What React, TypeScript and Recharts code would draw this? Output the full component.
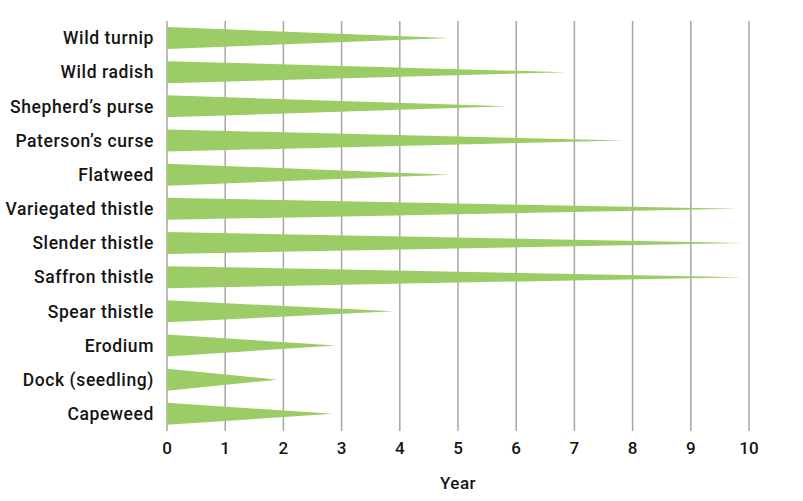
import React from 'react';
import { BarChart, Bar, XAxis, YAxis, CartesianGrid } from 'recharts';

const weeds = [
  'Wild turnip',
  'Wild radish',
  'Shepherd\u2019s purse',
  'Paterson\u2019s curse',
  'Flatweed',
  'Variegated thistle',
  'Slender thistle',
  'Saffron thistle',
  'Spear thistle',
  'Erodium',
  'Dock (seedling)',
  'Capeweed',
];
const years = [4.85, 6.85, 5.85, 7.85, 4.85, 9.8, 9.9, 9.9, 3.9, 2.9, 1.9, 2.85];
const xTicks = [0, 1, 2, 3, 4, 5, 6, 7, 8, 9, 10];

const data = weeds.map((name, i) => ({ name, value: years[i] }));

const FONT = 'Roboto, sans-serif';
const TEXT = '#141414';

const Wedge = (props: any) => {
  const { x, y, width, height, fill } = props;
  if (width == null || height == null) return null;
  return (
    <path
      d={`M${x},${y}L${x + width},${y + height / 2}L${x},${y + height}Z`}
      fill={fill}
    />
  );
};

export default function App() {
  return (
    <div style={{ position: 'absolute', left: 0, top: 0, background: '#fff' }}>
      <BarChart
        width={803}
        height={501}
        data={data}
        layout="vertical"
        margin={{ top: 21, right: 54, bottom: 0, left: 0 }}
        barCategoryGap={0}
      >
        <CartesianGrid
          horizontal={false}
          vertical={true}
          stroke="#a6a6a6"
          strokeWidth={1.5}
        />
        <XAxis
          type="number"
          domain={[0, 10]}
          ticks={xTicks}
          axisLine={false}
          tickLine={false}
          tickSize={0}
          tickMargin={11}
          height={70}
          tick={{ fill: TEXT, fontSize: 17, fontFamily: FONT, fontWeight: 500 }}
          label={{
            value: 'Year',
            position: 'insideBottom',
            offset: 12,
            fill: TEXT,
            fontSize: 17,
            fontFamily: FONT,
            fontWeight: 500,
            letterSpacing: 0.5,
          }}
        />
        <YAxis
          type="category"
          dataKey="name"
          width={167}
          axisLine={false}
          tickLine={false}
          tickSize={0}
          tickMargin={13}
          interval={0}
          tick={{
            fill: TEXT,
            fontSize: 17.5,
            fontFamily: FONT,
            fontWeight: 500,
            letterSpacing: 0.6,
          }}
        />
        <Bar
          dataKey="value"
          fill="#9ccc65"
          barSize={22}
          shape={<Wedge />}
          isAnimationActive={false}
        />
      </BarChart>
    </div>
  );
}
